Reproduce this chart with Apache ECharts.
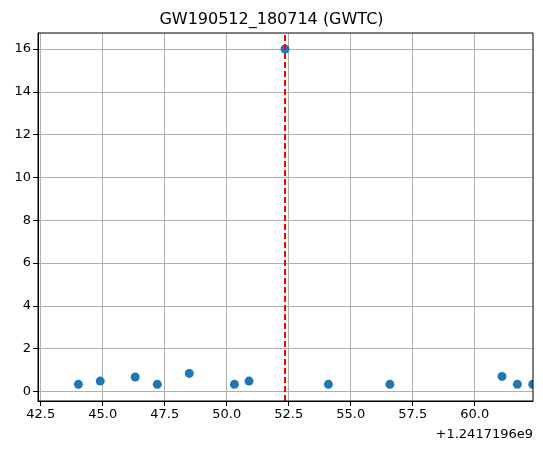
<!DOCTYPE html>
<html>
<head>
<meta charset="utf-8">
<script src="https://cdn.jsdelivr.net/npm/echarts@6/dist/echarts.min.js"></script>
<style>
  html, body { margin: 0; padding: 0; background: #fff; }
  #chart { width: 543px; height: 453px; }
</style>
</head>
<body>
<div id="chart"></div>
<script>
// time offset shown at the bottom right of the x axis
const timeOffsetLabel = '+1.2417196e9'
// seconds after the offset
const eventTimes = [44.02, 44.90, 46.31, 47.20, 48.49, 50.31, 50.90, 52.35, 54.10, 56.58, 61.10, 61.72, 62.34]
const eventValues = [0.33, 0.48, 0.67, 0.33, 0.84, 0.33, 0.48, 16.0, 0.33, 0.33, 0.70, 0.33, 0.33]
// merger time (red dashed line)
const mergerTime = 52.35
const xTicks = [42.5, 45.0, 47.5, 50.0, 52.5, 55.0, 57.5, 60.0]
const yTicks = [0, 2, 4, 6, 8, 10, 12, 14, 16]

const chart = echarts.init(document.getElementById('chart'))
const font = 'DejaVu Sans'

chart.setOption({
  animation: false,
  title: {
    text: 'GW190512_180714 (GWTC)',
    left: 'center',
    top: 7,
    textStyle: { fontFamily: font, fontSize: 16, fontWeight: 'normal', color: '#000' },
  },
  grid: { left: 38, right: 10, top: 33, bottom: 52 },
  xAxis: {
    type: 'value',
    min: 42.39,
    max: 62.35,
    axisLine: { onZero: false, lineStyle: { color: '#000', width: 1 } },
    axisTick: { show: true, length: 5, lineStyle: { color: '#000' }, customValues: xTicks },
    axisLabel: {
      customValues: xTicks,
      fontFamily: font, fontSize: 13, color: '#000', margin: 7,
      formatter: v => v.toFixed(1),
    },
    splitLine: { show: true, lineStyle: { color: '#b0b0b0', width: 1 } },
  },
  yAxis: {
    type: 'value',
    min: -0.45,
    max: 16.75,
    axisLine: { show: true, lineStyle: { color: '#000', width: 1 } },
    axisTick: { show: true, length: 5, lineStyle: { color: '#000' }, customValues: yTicks },
    axisLabel: {
      customValues: yTicks,
      fontFamily: font, fontSize: 13, color: '#000', margin: 7,
    },
    splitLine: { show: true, lineStyle: { color: '#b0b0b0', width: 1 } },
  },
  graphic: [
    {
      type: 'text',
      right: 10,
      top: 428,
      style: { text: timeOffsetLabel, font: '13px DejaVu Sans', fill: '#000' },
    },
    {
      // clip markers at the right edge of the plot area
      type: 'rect',
      shape: { x: 533, y: 33, width: 10, height: 368 },
      style: { fill: '#fff' },
      z: 9,
    },
    {
      // top and right spines
      type: 'rect',
      shape: { x: 38, y: 33, width: 495, height: 368 },
      style: { fill: 'none', stroke: '#000', lineWidth: 1 },
      z: 10,
    },
  ],
  series: [
    {
      type: 'scatter',
      data: eventTimes.map((t, i) => [t, eventValues[i]]),
      symbolSize: 9,
      itemStyle: { color: '#1f77b4', opacity: 1 },
      markLine: {
        silent: true,
        symbol: 'none',
        label: { show: false },
        lineStyle: { color: '#ff0000', type: [6, 3], width: 2 },
        data: [{ xAxis: mergerTime }],
      },
      z: 3,
    },
  ],
})
</script>
</body>
</html>
